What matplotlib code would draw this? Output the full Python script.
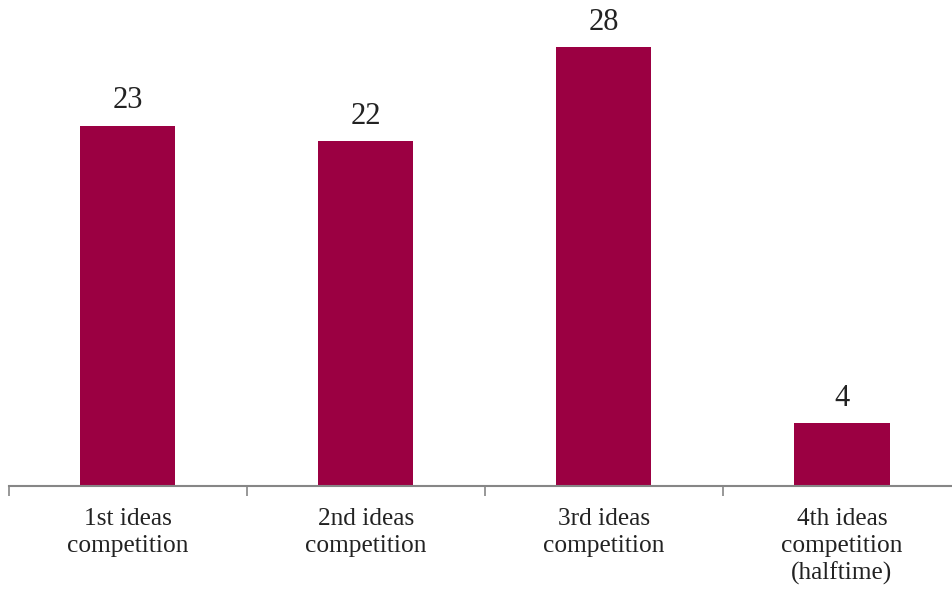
import matplotlib.pyplot as plt
import numpy as np

categories = ["1st ideas\ncompetition", "2nd ideas\ncompetition",
              "3rd ideas\ncompetition", "4th ideas\ncompetition\n(halftime)"]
values = [23, 22, 28, 4]

plt.rcParams['font.family'] = ['Liberation Serif', 'DejaVu Serif']

fig = plt.figure(figsize=(9.53, 5.9), dpi=100)
# axes spans slightly past the right edge, as in the original
ax = fig.add_axes([8.5 / 953, 104 / 590, 952.5 / 953, 470 / 590])

x = np.arange(len(values))
bars = ax.bar(x, values, width=0.4, color='#9B0042')
for b, v in zip(bars, values):
    ax.text(b.get_x() + b.get_width() / 2, v + 0.65, str(v),
            ha='center', va='bottom', fontsize=22, color='#222222')

ax.set_xlim(-0.5, len(values) - 0.5)
ax.set_ylim(0, 30)
ax.set_xticks(x)
ax.set_xticklabels(categories, fontsize=18.3, color='#222222', linespacing=1.27)
ax.tick_params(axis='x', which='major', length=0, pad=16)
ax.set_xticks(np.arange(-0.5, len(values)), minor=True)
ax.tick_params(axis='x', which='minor', length=7, width=1.2, color='#868686')
ax.set_yticks([])
for s in ['top', 'right', 'left']:
    ax.spines[s].set_visible(False)
ax.spines['bottom'].set_color('#868686')
ax.spines['bottom'].set_linewidth(1.5)

fig.savefig('out.png', dpi=100)
